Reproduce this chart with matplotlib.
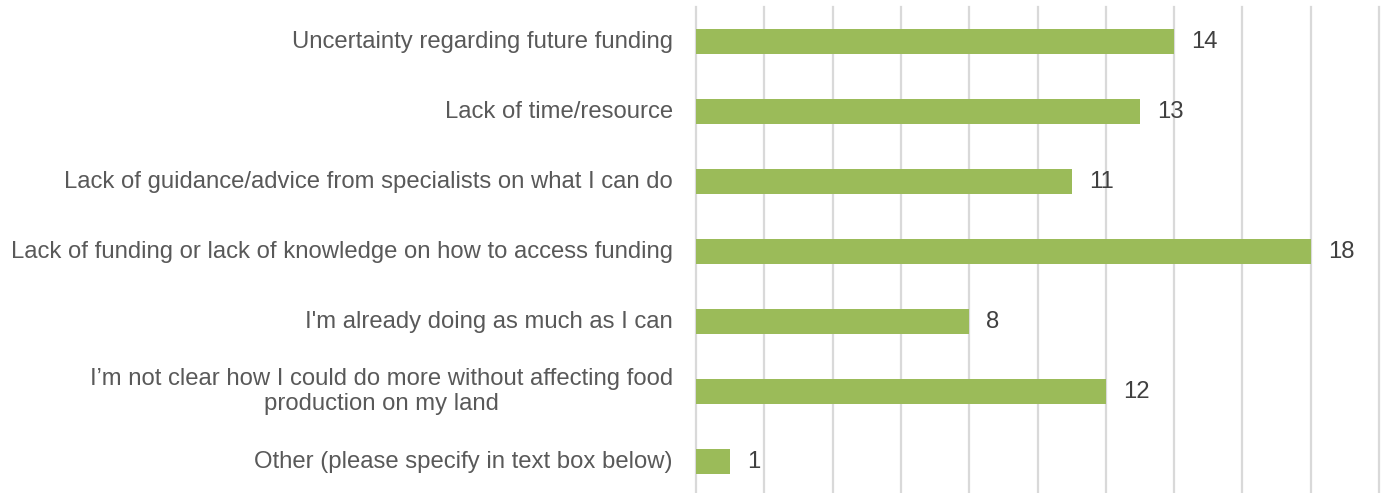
import matplotlib
matplotlib.use("Agg")
import matplotlib.pyplot as plt

categories = [
    "Uncertainty regarding future funding",
    "Lack of time/resource",
    "Lack of guidance/advice from specialists on what I can do",
    "Lack of funding or lack of knowledge on how to access funding",
    "I'm already doing as much as I can",
    "I\u2019m not clear how I could do more without affecting food\nproduction on my land",
    "Other (please specify in text box below)",
]
values = [14, 13, 11, 18, 8, 12, 1]
xticks = list(range(0, 21, 2))

plt.rcParams['font.family'] = ['Liberation Sans', 'DejaVu Sans']

W, H = 1387, 493
fig = plt.figure(figsize=(W / 100, H / 100), dpi=100)
ax = fig.add_axes([696 / W, 0, (1379 - 696) / W, (H - 7) / H])

ypos = list(range(len(categories)))
ax.barh(ypos, values, height=0.357, color='#9BBB59', zorder=3)
ax.set_xlim(0, 20)
ax.set_ylim(6.45, -0.5)
ax.set_xticks(xticks)
ax.xaxis.grid(True, color='#D9D9D9', linewidth=1.6, zorder=0)
for gl in ax.get_xgridlines():
    gl.set_clip_on(False)
ax.set_yticks([])
ax.tick_params(axis='x', length=0, labelbottom=False)
for s in ax.spines.values():
    s.set_visible(False)

for y, lab in zip(ypos, categories):
    ax.annotate(lab, (0, y), xytext=(-23, 0), textcoords='offset pixels',
                ha='right', va='center', multialignment='center',
                fontsize=17.2, color='#595959', linespacing=1.22)

for y, v in zip(ypos, values):
    ax.annotate(str(v), (v, y), xytext=(17, 0), textcoords='offset pixels',
                ha='left', va='center', fontsize=17.2, color='#404040')

fig.savefig('out.png', dpi=100)
